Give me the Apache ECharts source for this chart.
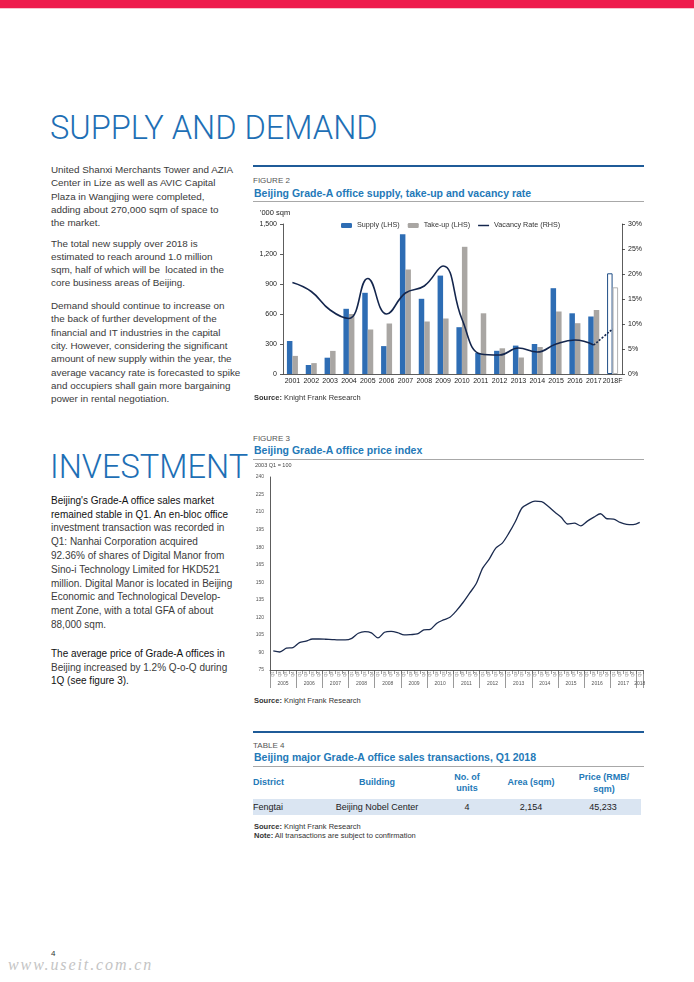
<!DOCTYPE html>
<html><head><meta charset="utf-8">
<script src="https://cdn.jsdelivr.net/npm/echarts@6.0.0/dist/echarts.min.js"></script>
<style>
html,body{margin:0;padding:0;background:#fff;}
#page{position:relative;width:694px;height:982px;overflow:hidden;font-family:"Liberation Sans",Arial,Helvetica,sans-serif;color:#3a3a3a;}
.a{position:absolute;white-space:nowrap;}
.h1{font-family:Roboto,"Liberation Sans",sans-serif;font-weight:300;font-size:32.6px;color:#1e6fb5;line-height:40px;left:50px;}
.p{font-size:9.85px;line-height:13.3px;left:51px;}
.p2{font-size:10px;line-height:13.8px;left:51px;}
.dk{color:#111;}
.fig{font-size:8px;line-height:10px;color:#555;left:253px;}
.ft{font-weight:bold;font-size:10.5px;line-height:12px;color:#2479b8;left:254px;}
.rule{left:253px;width:391px;height:2px;background:#1f5b98;}
.grule{left:253px;width:391px;height:1px;background:#a8a8a8;}
.src{font-size:7.5px;line-height:10px;color:#333;left:254px;}
.th{font-size:9px;font-weight:bold;color:#2479b8;text-align:center;}
.td{font-size:9px;line-height:16px;color:#222;text-align:center;top:799px;}
</style></head>
<body><div id="page">
<div class="a" style="left:0;top:0;width:694px;height:8px;background:#ee1b4c"></div>
<div class="a" style="left:0;top:8px;width:694px;height:1px;background:#f7c3cf"></div>

<div class="a h1" style="top:108.3px">SUPPLY AND DEMAND</div>
<div class="a p" style="top:163.2px">United Shanxi Merchants Tower and AZIA<br>Center in Lize as well as AVIC Capital<br>Plaza in Wangjing were completed,<br>adding about 270,000 sqm of space to<br>the market.</div>
<div class="a p" style="top:236.6px">The total new supply over 2018 is<br>estimated to reach around 1.0 million<br>sqm, half of which will be&nbsp; located in the<br>core business areas of Beijing.</div>
<div class="a p" style="top:299.2px">Demand should continue to increase on<br>the back of further development of the<br>financial and IT industries in the capital<br>city. However, considering the significant<br>amount of new supply within the year, the<br>average vacancy rate is forecasted to spike<br>and occupiers shall gain more bargaining<br>power in rental negotiation.</div>

<div class="a h1" style="top:446.6px">INVESTMENT</div>
<div class="a p2" style="top:493.9px"><span class="dk">Beijing's Grade-A office sales market<br>remained stable in Q1. An en-bloc office</span><br>investment transaction was recorded in<br>Q1: Nanhai Corporation acquired<br>92.36% of shares of Digital Manor from<br>Sino-i Technology Limited for HKD521<br>million. Digital Manor is located in Beijing<br>Economic and Technological Develop-<br>ment Zone, with a total GFA of about<br>88,000 sqm.</div>
<div class="a p2" style="top:646.9px"><span class="dk">The average price of Grade-A offices in</span><br>Beijing increased by 1.2% Q-o-Q during<br><span class="dk">1Q (see figure 3).</span></div>

<!-- Figure 2 -->
<div class="a rule" style="top:165px"></div>
<div class="a fig" style="top:176.2px">FIGURE 2</div>
<div class="a ft" style="top:186.5px">Beijing Grade-A office supply, take-up and vacancy rate</div>
<div class="a grule" style="top:201px"></div>
<div id="c1" class="a" style="left:250px;top:200px;width:400px;height:210px"></div>
<div class="a" style="left:260px;top:208.4px;font-size:7.5px;line-height:10px;color:#222">'000 sqm</div>
<div class="a src" style="top:393.1px"><b>Source:</b> Knight Frank Research</div>

<!-- Figure 3 -->
<div class="a fig" style="top:434.2px">FIGURE 3</div>
<div class="a ft" style="top:443.8px">Beijing Grade-A office price index</div>
<div class="a grule" style="top:459px"></div>
<div id="c2" class="a" style="left:250px;top:460px;width:400px;height:235px"></div>
<div class="a" style="left:255px;top:462.3px;font-size:5.5px;line-height:7px;color:#444">2003 Q1 = 100</div>
<div class="a src" style="top:695.7px"><b>Source:</b> Knight Frank Research</div>

<!-- Table 4 -->
<div class="a rule" style="top:731px"></div>
<div class="a fig" style="top:740.5px">TABLE 4</div>
<div class="a ft" style="top:750.5px">Beijing major Grade-A office sales transactions, Q1 2018</div>
<div class="a grule" style="top:766px"></div>
<div class="a th" style="left:253px;top:776.8px;line-height:11.5px;text-align:left">District</div>
<div class="a th" style="left:327px;width:100px;top:776.8px;line-height:11.5px">Building</div>
<div class="a th" style="left:427px;width:80px;top:772.1px;line-height:11px">No. of<br>units</div>
<div class="a th" style="left:491px;width:80px;top:777.1px;line-height:11px">Area (sqm)</div>
<div class="a th" style="left:564px;width:80px;top:770.7px;line-height:12.3px">Price (RMB/<br>sqm)</div>
<div class="a" style="left:253px;top:799px;width:388px;height:16px;background:#dae5f2"></div>
<div class="a td" style="left:253px;text-align:left">Fengtai</div>
<div class="a td" style="left:317px;width:120px">Beijing Nobel Center</div>
<div class="a td" style="left:427px;width:80px">4</div>
<div class="a td" style="left:491px;width:80px">2,154</div>
<div class="a td" style="left:563px;width:80px">45,233</div>
<div class="a" style="left:254px;top:823px;font-size:7.5px;line-height:8.7px;color:#333"><b>Source:</b> Knight Frank Research<br><b>Note:</b> All transactions are subject to confirmation</div>

<div class="a" style="left:51px;top:949px;font-size:8px;line-height:10px;color:#333">4</div>
<div class="a" style="left:8px;top:956px;font-family:'Liberation Serif',serif;font-style:italic;font-size:16px;line-height:18px;letter-spacing:1.9px;color:#c4c4c4">www.useit.com.cn</div>
</div>
<script>
// ---------- Figure 2 data ----------
const years = ['2001','2002','2003','2004','2005','2006','2007','2008','2009','2010','2011','2012','2013','2014','2015','2016','2017','2018F'];
const supply = [330, 90, 163, 652, 812, 279, 1397, 752, 984, 468, 210, 232, 284, 300, 858, 607, 575, 1007];
const takeUp = [181, 109, 231, 600, 445, 505, 1045, 525, 555, 1272, 607, 257, 165, 270, 625, 508, 640, 867];
const vacancy = [18.3, 16.5, 12.8, 11.1, 19.1, 12.0, 16.2, 17.6, 21.6, 11.0, 4.0, 3.8, 5.2, 4.4, 6.0, 6.8, 5.8, 9.0];
const forecastIndex = 17;

// ---------- Figure 3 data ----------
const yearGroups = ['2005','2006','2007','2008','2008','2009','2010','2011','2012','2013','2014','2015','2016','2017','2018'];
const quarterNames = ['Q1','Q2','Q3','Q4'];
const priceIndex = [91.3, 90.4, 93.6, 94.1, 98.4, 99.6, 101.5, 101.5, 101.3, 101.0, 100.7, 100.7,
  102.1, 106.4, 107.8, 106.7, 102.4, 107.3, 108.1, 107.0, 105.0, 105.3, 105.8, 109.3,
  109.8, 115.0, 117.8, 120.1, 125.8, 132.7, 140.7, 148.7, 162.1, 169.8, 179.2, 183.5,
  192.0, 202.0, 213.5, 217.2, 219.3, 219.0, 215.0, 210.0, 205.5, 199.8, 200.6, 198.3,
  202.3, 205.7, 208.6, 204.3, 204.0, 201.2, 199.5, 199.2, 201.2];

const FONT = '"Liberation Sans", Arial, sans-serif';

// ---------- Chart 1 ----------
const c1 = echarts.init(document.getElementById('c1'), null, {renderer: 'canvas'});
const supplyData = supply.map((v, i) => i === forecastIndex
  ? {value: v, itemStyle: {color: '#ffffff', borderColor: '#1f4e86', borderWidth: 1}} : v);
const takeUpData = takeUp.map((v, i) => i === forecastIndex
  ? {value: v, itemStyle: {color: '#ffffff', borderColor: '#b3b3b3', borderWidth: 1}} : v);
const vacSolid = vacancy.map((v, i) => i < forecastIndex ? v : null);
const vacDash = vacancy.map((v, i) => i >= forecastIndex - 1 ? v : null);
const axisLineStyle = {color: '#333', width: 0.8};
c1.setOption({
  animation: false,
  textStyle: {fontFamily: FONT},
  grid: {left: 33, top: 24, width: 339, height: 150, containLabel: false, outerBoundsMode: 'none'},
  legend: {
    data: ['Supply (LHS)', 'Take-up (LHS)',
      {name: 'Vacancy Rate (RHS)', icon: 'path://M0,0L12,0L12,1.6L0,1.6Z'}],
    left: 91, top: 22, itemWidth: 11, itemHeight: 5, itemGap: 8, padding: 0,
    textStyle: {fontSize: 7.2, color: '#333', fontFamily: FONT}
  },
  xAxis: {
    type: 'category', data: years,
    axisLine: {lineStyle: axisLineStyle}, axisTick: {show: false},
    axisLabel: {interval: 0, fontSize: 7, color: '#222', margin: 4, fontFamily: FONT}
  },
  yAxis: [
    {type: 'value', min: 0, max: 1500, interval: 300,
     axisLine: {show: true, lineStyle: axisLineStyle}, axisTick: {show: true, length: 3, lineStyle: axisLineStyle},
     splitLine: {show: false},
     axisLabel: {fontSize: 7, color: '#222', margin: 6, fontFamily: FONT,
       formatter: v => v.toLocaleString('en-US')}},
    {type: 'value', min: 0, max: 30, interval: 5, position: 'right',
     axisLine: {show: true, lineStyle: axisLineStyle}, axisTick: {show: true, length: 3, lineStyle: axisLineStyle},
     splitLine: {show: false},
     axisLabel: {fontSize: 7, color: '#222', margin: 6, fontFamily: FONT, formatter: '{value}%'}}
  ],
  series: [
    {name: 'Supply (LHS)', type: 'bar', data: supplyData, barWidth: 5.5, barGap: '0%',
     itemStyle: {color: '#2e6db4'}},
    {name: 'Take-up (LHS)', type: 'bar', data: takeUpData, barWidth: 5.5, barGap: '0%',
     itemStyle: {color: '#a9a6a3'}},
    {name: 'Vacancy Rate (RHS)', type: 'line', yAxisIndex: 1, data: vacSolid, smooth: 0.45,
     symbol: 'none', showSymbol: false, connectNulls: false,
     lineStyle: {color: '#14264d', width: 1.6}, itemStyle: {color: '#14264d'}, z: 5},
    {name: 'Vacancy forecast', type: 'line', yAxisIndex: 1, data: vacDash, smooth: 0.3,
     symbol: 'none', showSymbol: false,
     lineStyle: {color: '#14264d', width: 1.6, type: [2, 1.5]}, itemStyle: {color: '#14264d'}, z: 5}
  ]
});

// ---------- Chart 2 ----------
const quarterCats = [];
yearGroups.forEach((y, g) => {
  const n = g === yearGroups.length - 1 ? 1 : 4;
  for (let q = 0; q < n; q++) quarterCats.push(g + '|' + y + '|' + quarterNames[q]);
});
const lastIdx = quarterCats.length - 1;
const c2 = echarts.init(document.getElementById('c2'), null, {renderer: 'canvas'});
c2.setOption({
  animation: false,
  textStyle: {fontFamily: FONT},
  grid: {left: 20, top: 17, width: 373, height: 193, containLabel: false, outerBoundsMode: 'none'},
  xAxis: [
    {type: 'category', data: quarterCats, position: 'bottom',
     axisLine: {lineStyle: axisLineStyle},
     axisTick: {show: true, interval: 0, length: 4, lineStyle: {color: '#555', width: 0.6}},
     axisLabel: {interval: 0, rotate: 90, fontSize: 4, color: '#666', margin: 1.5, fontFamily: FONT,
       formatter: v => v.split('|')[2]}},
    {type: 'category', data: quarterCats, position: 'bottom',
     axisLine: {show: false},
     axisTick: {show: true, length: 18, interval: (i) => i % 4 === 0, lineStyle: {color: '#555', width: 0.6}},
     axisLabel: {interval: (i) => i % 4 === 1 || i === lastIdx, margin: 11, fontFamily: FONT,
       formatter: (v, i) => (i === lastIdx ? '{n|' : '{s|') + v.split('|')[1] + '}',
       rich: {s: {fontSize: 5, color: '#555', padding: [0, 0, 0, 6.5], fontFamily: FONT},
              n: {fontSize: 5, color: '#555', fontFamily: FONT}}}}
  ],
  yAxis: {type: 'value', min: 75, max: 240, interval: 15,
    axisLine: {show: true, lineStyle: axisLineStyle}, axisTick: {show: false},
    splitLine: {show: false},
    axisLabel: {fontSize: 5, color: '#555', margin: 6, fontFamily: FONT}},
  series: [{type: 'line', data: priceIndex, smooth: 0.3, symbol: 'none', showSymbol: false,
    lineStyle: {color: '#1b2b4f', width: 1.3}}]
});
</script>
</body></html>
